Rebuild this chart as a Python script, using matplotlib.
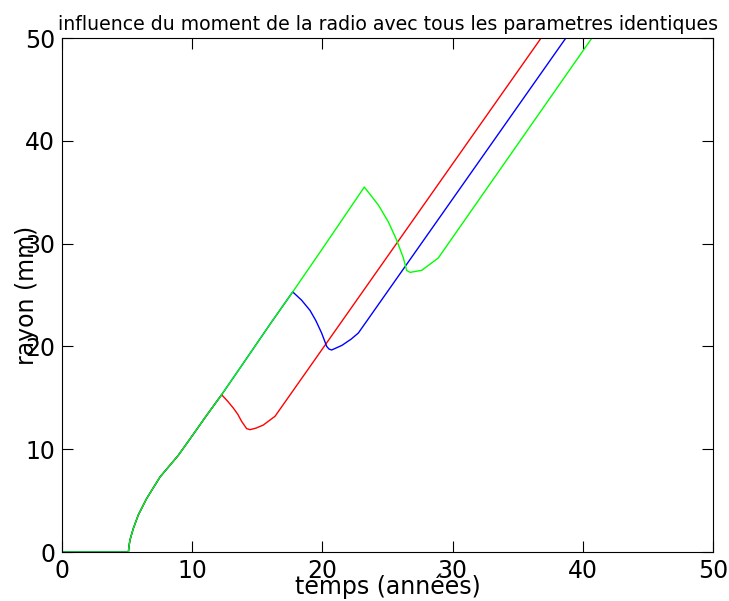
import numpy as np
import matplotlib
matplotlib.use("Agg")
import matplotlib.pyplot as plt

# temps (annees) / rayon (mm)
t_common = [0, 5.1, 5.15, 5.22, 5.48, 5.86, 6.5, 7.53, 8.93, 10.0, 11.0, 12.26]
r_common = [0, 0, 0.6, 1.17, 2.3, 3.6, 5.2, 7.3, 9.4, 11.3, 13.1, 15.3]

t_red = t_common + [12.7, 13.16, 13.5, 13.8, 14.18, 14.44, 14.9, 15.46, 16.36, 36.8]
r_red = r_common + [14.7, 14.0, 13.4, 12.7, 12.0, 11.9, 12.05, 12.35, 13.2, 50]

t_blue = t_common + [14.0, 16.0, 17.72, 18.4, 19.05, 19.5, 19.94, 20.15,
                     20.33, 20.5, 20.71, 21.5, 22.2, 22.76, 38.7]
r_blue = r_common + [18.5, 22.2, 25.3, 24.5, 23.5, 22.5, 21.3, 20.6,
                     20.0, 19.75, 19.65, 20.1, 20.7, 21.3, 50]

t_green = t_common + [14.0, 16.0, 17.72, 20.0, 23.22, 24.3, 25.07, 25.7,
                      26.22, 26.47, 26.73, 27.63, 28.9, 40.7]
r_green = r_common + [18.5, 22.2, 25.3, 29.5, 35.5, 33.75, 32.1, 30.35,
                      28.6, 27.4, 27.2, 27.4, 28.6, 50]

ticks = [0, 10, 20, 30, 40, 50]

fig = plt.figure(figsize=(7.29, 6.01), dpi=100)
ax = fig.add_axes([62 / 729, 49 / 601, 651 / 729, 514 / 601])

ax.plot(t_red, r_red, color="#ff0000", lw=1)
ax.plot(t_blue, r_blue, color="#0000ff", lw=1)
ax.plot(t_green, r_green, color="#00ff00", lw=1)

ax.set_xlim(0, 50)
ax.set_ylim(0, 50)
ax.set_xticks(ticks)
ax.set_yticks(ticks)
ax.tick_params(direction="in", top=True, right=True, length=8, width=0.8,
               labelsize=17, pad=5)
ax.set_title("influence du moment de la radio avec tous les parametres identiques",
             fontsize=13.6, pad=6)
ax.set_xlabel("temps (années)", fontsize=17, labelpad=-7)
ax.set_ylabel("rayon (mm)", fontsize=17, labelpad=-10)

fig.savefig("out.png", dpi=100)
